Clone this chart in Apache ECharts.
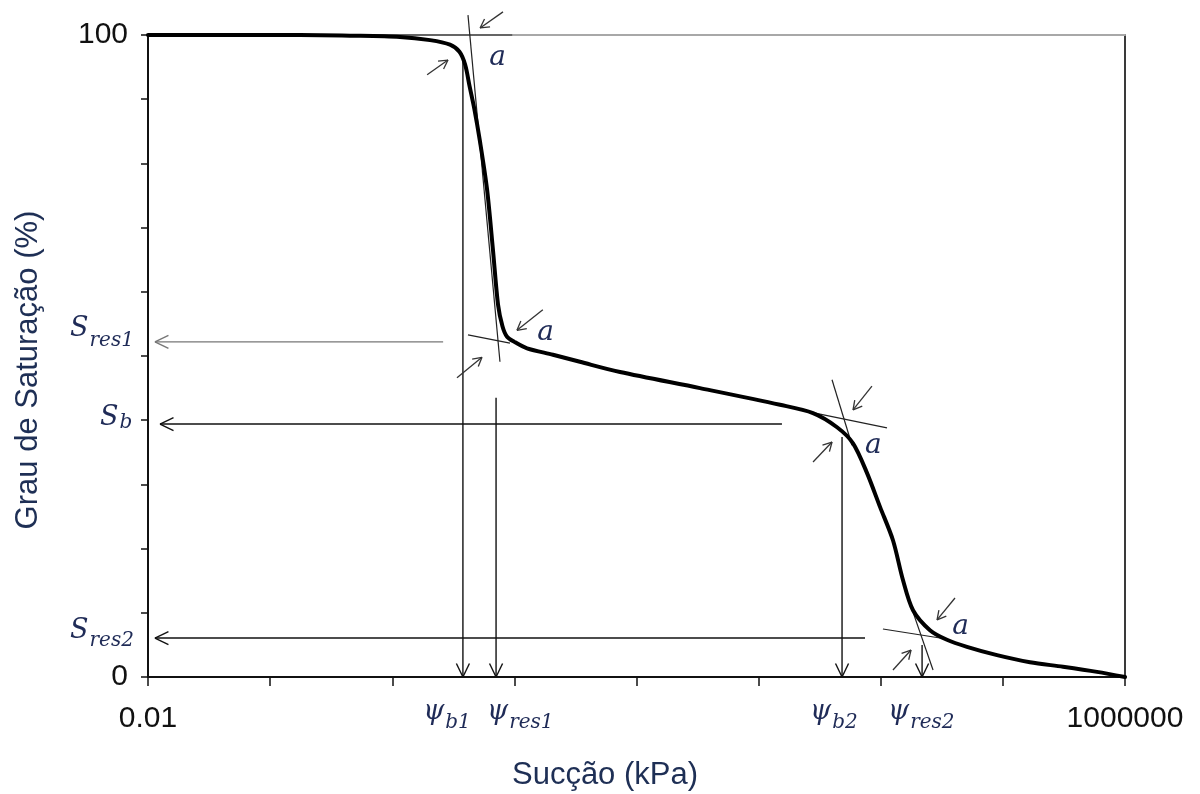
<!DOCTYPE html>
<html><head><meta charset="utf-8">
<script src="https://cdn.jsdelivr.net/npm/echarts@6/dist/echarts.min.js"></script>
<style>html,body{margin:0;padding:0;background:#fff}#c{width:1200px;height:794px}</style>
</head><body><div id="c"></div>
<script>
// ---- curve (suction kPa, degree of saturation %) ----
const suction = [0.01, 0.176, 0.451, 1.156, 2.04, 2.97, 3.55, 3.95, 4.3, 4.7, 5.22, 5.97, 6.68, 7.35, 8.0, 8.71, 10.0, 12.7, 20.7, 34.4, 73.3, 331, 1496, 2786, 4385, 5929, 7709, 9863, 12590, 15200, 18370, 25290, 34830, 50800, 89540, 166700, 310500, 590200, 1000000];
const saturation = [100, 100, 99.9, 99.7, 99.2, 98.5, 97.4, 95.4, 92.0, 88.5, 83.5, 76.0, 66.5, 58.0, 54.6, 53.0, 52.2, 51.2, 50.2, 49.1, 47.5, 45.0, 42.4, 41.1, 38.9, 36.4, 31.8, 26.5, 21.3, 15.1, 10.4, 7.3, 5.8, 4.7, 3.4, 2.3, 1.6, 0.8, 0];

// ---- tick labels ----
const xLabelValues = [0.01, 1000000];
const xLabelTexts = ['0.01', '1000000'];
const yLabelValues = [0, 100];
const yLabelTexts = ['0', '100'];

// ---- construction lines (x1, y1, x2, y2) in data units ----
const tangentLines = [
  [0.01, 100, 9.6, 100],
  [4.17, 103.1, 7.62, 49.1],
  [4.17, 53.3, 9.2, 52.0],
  [2900, 41.1, 11250, 38.8],
  [3990, 46.3, 5820, 36.1],
  [10420, 7.48, 30550, 6.07],
  [18370, 10.1, 26800, 1.09]
];
// leader arrows to the axes (arrow head at second point)
const leaderArrows = [
  [3.79, 96.6, 3.79, 0],
  [7.08, 43.5, 7.08, 0],
  [4820, 37.4, 4820, 0],
  [21800, 5.0, 21800, 0],
  [1552, 39.4, 0.01254, 39.4],
  [7430, 6.07, 0.0114, 6.07]
];
const greyLeaderArrows = [
  [2.61, 52.2, 0.0114, 52.2]
];
// small arrows marking the angle a
const angleArrows = [
  [8.07, 103.6, 5.24, 101.1],
  [1.93, 93.8, 2.86, 96.1],
  [17.1, 57.2, 10.5, 54.0],
  [3.39, 46.6, 5.43, 49.8],
  [8470, 45.3, 5930, 41.6],
  [2790, 33.5, 3990, 36.6],
  [40550, 12.3, 28900, 8.9],
  [12590, 1.09, 17700, 4.2]
];
const angleLabels = [[7.3, 96.4], [18.0, 53.7], [8700, 36.1], [45000, 7.8]];
// psi labels below the axis: x (left edge), baseline y, subscript
const psiLabels = [[1.79, -6.85, 'b1'], [5.97, -6.85, 'res1'], [2640, -6.85, 'b2'], [11460, -6.85, 'res2']];
const psiSubDrop = [9, 9, 9, 9];
// S labels left of the axis: x (left edge), baseline y, subscript
const sLabels = [[0.0023, 52.8, 'res1'], [0.00405, 38.9, 'b'], [0.0023, 5.75, 'res2']];
const sSubDrop = [10, 3, 8];

const mathColor = '#1f2b57';
const mathFont = '"DejaVu Serif"';
const mainFont = 'italic 27px ' + mathFont;
const subFont = 'italic 20px ' + mathFont;
const measureCtx = document.createElement('canvas').getContext('2d');
function textWidth(t, f) { measureCtx.font = f; return measureCtx.measureText(t).width; }

function segRenderer(color, width, headLen, headAng, withHead) {
  return function (params, api) {
    const p1 = api.coord([api.value(0), api.value(1)]);
    const p2 = api.coord([api.value(2), api.value(3)]);
    const children = [{ type: 'line', shape: { x1: p1[0], y1: p1[1], x2: p2[0], y2: p2[1] }, style: { stroke: color, lineWidth: width } }];
    if (withHead) {
      const ang = Math.atan2(p2[1] - p1[1], p2[0] - p1[0]);
      [headAng, -headAng].forEach(function (d) {
        children.push({ type: 'line', shape: { x1: p2[0], y1: p2[1], x2: p2[0] - headLen * Math.cos(ang + d), y2: p2[1] - headLen * Math.sin(ang + d) }, style: { stroke: color, lineWidth: width } });
      });
    }
    return { type: 'group', children: children };
  };
}

function symRenderer(list, mainChar, drops) {
  return function (params, api) {
    const p = api.coord([api.value(0), api.value(1)]);
    const w = textWidth(mainChar, mainFont);
    const drop = drops[params.dataIndex];
    return {
      type: 'group', children: [
        { type: 'text', x: p[0], y: p[1] - 0.35 * 27, style: { text: mainChar, font: mainFont, fill: mathColor, align: 'left', verticalAlign: 'middle' } },
        { type: 'text', x: p[0] + w + 1, y: p[1] + drop - 0.35 * 20, style: { text: list[params.dataIndex][2], font: subFont, fill: mathColor, align: 'left', verticalAlign: 'middle' } }
      ]
    };
  };
}

const chart = echarts.init(document.getElementById('c'));
chart.setOption({
  backgroundColor: '#fff',
  animation: false,
  grid: { left: 148, top: 35, right: 75, bottom: 117 },
  xAxis: [{
    type: 'log', logBase: 10, min: 0.01, max: 1000000, splitNumber: 8,
    axisLine: { onZero: false, lineStyle: { color: '#111', width: 2 } },
    axisTick: { show: true, length: 9, lineStyle: { color: '#111', width: 1.5 } },
    splitLine: { show: false },
    axisLabel: {
      margin: 27, color: '#111', fontFamily: 'Liberation Sans', fontSize: 30,
      formatter: function (v) {
        for (let i = 0; i < xLabelValues.length; i++) {
          if (Math.abs(Math.log10(v) - Math.log10(xLabelValues[i])) < 1e-6) return xLabelTexts[i];
        }
        return '';
      }
    }
  }, {
    type: 'log', logBase: 10, min: 0.01, max: 1000000, position: 'top',
    axisLine: { onZero: false, lineStyle: { color: '#a8a8a8', width: 2 } },
    axisTick: { show: false }, axisLabel: { show: false }, splitLine: { show: false }
  }],
  yAxis: [{
    type: 'value', min: 0, max: 100, interval: 10,
    axisLine: { show: true, onZero: false, lineStyle: { color: '#111', width: 2 } },
    axisTick: { show: true, length: 7, lineStyle: { color: '#111', width: 1.5 } },
    splitLine: { show: false },
    axisLabel: {
      margin: 20, color: '#111', fontFamily: 'Liberation Sans', fontSize: 30,
      formatter: function (v) {
        const i = yLabelValues.indexOf(v);
        return i >= 0 ? yLabelTexts[i] : '';
      }
    }
  }, {
    type: 'value', min: 0, max: 100, position: 'right',
    axisLine: { show: true, onZero: false, lineStyle: { color: '#3a3a3a', width: 2 } },
    axisTick: { show: false }, axisLabel: { show: false }, splitLine: { show: false }
  }],
  graphic: [
    { type: 'text', x: 605, y: 775, style: { text: 'Sucção (kPa)', fill: '#1e2f55', font: '31px "Liberation Sans"', textAlign: 'center', textVerticalAlign: 'middle', align: 'center', verticalAlign: 'middle' } },
    { type: 'text', x: 28, y: 370, rotation: Math.PI / 2, style: { text: 'Grau de Saturação (%)', fill: '#1e2f55', font: '31px "Liberation Sans"', textAlign: 'center', textVerticalAlign: 'middle', align: 'center', verticalAlign: 'middle' } }
  ],
  series: [
    {
      type: 'custom', name: 'tangents', coordinateSystem: 'cartesian2d', clip: false, z: 3,
      renderItem: segRenderer('#222', 1.2, 0, 0, false), data: tangentLines
    },
    {
      type: 'custom', name: 'leaders', coordinateSystem: 'cartesian2d', clip: false, z: 3,
      renderItem: segRenderer('#111', 1.4, 15, 0.45, true), data: leaderArrows
    },
    {
      type: 'custom', name: 'leadersGrey', coordinateSystem: 'cartesian2d', clip: false, z: 3,
      renderItem: segRenderer('#777', 1.4, 15, 0.45, true), data: greyLeaderArrows
    },
    {
      type: 'custom', name: 'angleArrows', coordinateSystem: 'cartesian2d', clip: false, z: 3,
      renderItem: segRenderer('#333', 1.3, 10, 0.5, true), data: angleArrows
    },
    {
      type: 'line', name: 'curve', data: suction.map(function (s, i) { return [s, saturation[i]]; }),
      showSymbol: false, symbol: 'none', smooth: 0.3, clip: false, z: 4,
      lineStyle: { color: '#000', width: 4, join: 'round', cap: 'round' }
    },
    {
      type: 'custom', name: 'angleLabels', coordinateSystem: 'cartesian2d', clip: false, z: 5,
      renderItem: function (params, api) {
        const p = api.coord([api.value(0), api.value(1)]);
        return { type: 'text', x: p[0], y: p[1], style: { text: 'a', fill: mathColor, font: 'italic 28px ' + mathFont, align: 'center', verticalAlign: 'middle' } };
      },
      data: angleLabels
    },
    {
      type: 'custom', name: 'psiLabels', coordinateSystem: 'cartesian2d', clip: false, z: 5,
      renderItem: symRenderer(psiLabels, 'ψ', psiSubDrop), data: psiLabels
    },
    {
      type: 'custom', name: 'sLabels', coordinateSystem: 'cartesian2d', clip: false, z: 5,
      renderItem: symRenderer(sLabels, 'S', sSubDrop), data: sLabels
    }
  ]
});
</script>
</body></html>
